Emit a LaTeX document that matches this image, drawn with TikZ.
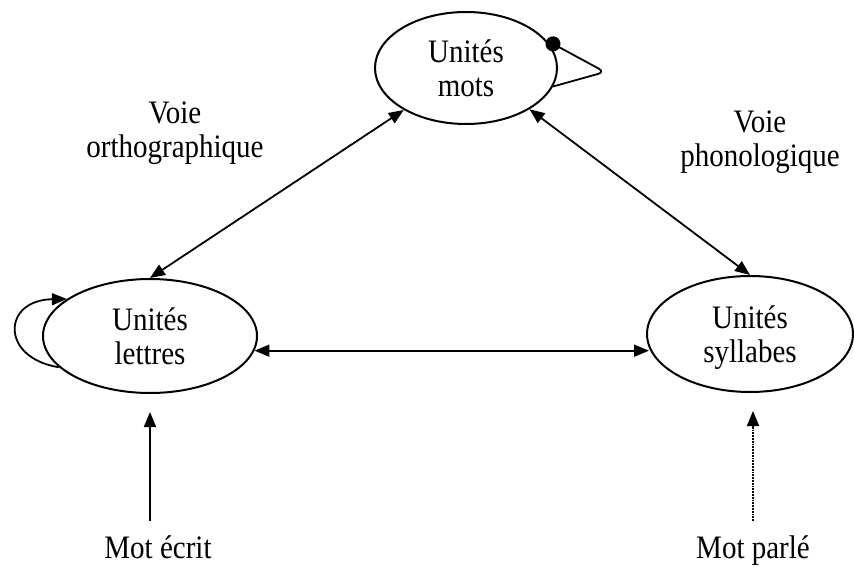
\documentclass[tikz,border=0pt]{standalone}
\usepackage{fontspec}
\usepackage{graphicx}
\setmainfont{Liberation Serif}
\usetikzlibrary{shapes.geometric,arrows.meta}
\newcommand\tallt[1]{\scalebox{1}[1.13]{#1}}
\tikzset{
  unit/.style={draw, ellipse, line width=2pt, inner sep=0pt, align=center,
    text depth=0pt, font=\fontsize{29}{34}\selectfont},
  lbl/.style={align=center, inner sep=2pt, text depth=0pt, font=\fontsize{29}{34}\selectfont},
  dbl/.style={line width=1.8pt, {Triangle[length=15pt,width=12pt]}-{Triangle[length=15pt,width=12pt]}},
  one/.style={line width=1.8pt, -{Triangle[length=15pt,width=12pt]}},
}
\begin{document}
\begin{tikzpicture}[x=1pt,y=-1pt]
\useasboundingbox (0,0) rectangle (854,567);
\node[unit, minimum width=182pt, minimum height=112pt] (mots) at (466,68) {\tallt{Unités}\\\tallt{mots}};
\node[unit, minimum width=214pt, minimum height=114pt] (lettres) at (150,336) {\tallt{Unités}\\\tallt{lettres}};
\node[unit, minimum width=206pt, minimum height=116pt] (syllabes) at (750,334) {\tallt{Unités}\\\tallt{syllabes}};
\node[lbl] (ortho) at (175,130) {\tallt{Voie}\\\tallt{orthographique}};
\node[lbl] (phono) at (760,139) {\tallt{Voie}\\\tallt{phonologique}};
\node[lbl, anchor=base] (ecrit) at (158,558) {\tallt{Mot écrit}};
\node[lbl, anchor=base] (parle) at (753,558) {\tallt{Mot parlé}};
% connectors
\draw[dbl] (lettres.north) -- (mots.214);
\draw[dbl] (mots.327) -- (syllabes.north);
\draw[dbl, shorten >=-3pt] (lettres.-8) -- (lettres.-8 -| syllabes.west);
\draw[one, shorten <=12pt, shorten >=18pt] (ecrit.north -| lettres.south) -- (lettres.south);
\draw[one, densely dotted, shorten <=12pt, shorten >=18pt] (parle.north) -- (parle.north |- syllabes.south);
% self loops
\draw[line width=1.8pt, rounded corners=7pt, {Circle[length=15pt]}-] (mots.19) -- (605,72) -- (mots.-12);
\draw[one] (lettres.199) .. controls (0,358) and (2,300) .. (lettres.156);
\end{tikzpicture}
\end{document}
